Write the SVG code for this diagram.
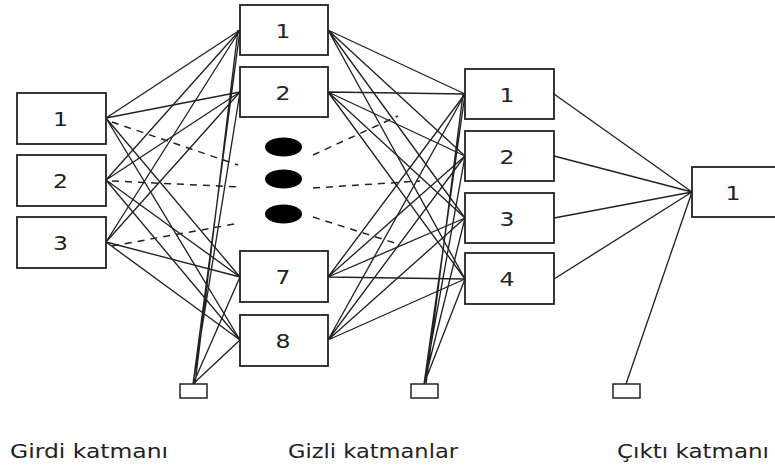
<svg xmlns="http://www.w3.org/2000/svg" width="775" height="466" viewBox="0 0 775 466">
  <style>
    .box { fill: #fff; stroke: #222; stroke-width: 1.8; }
    .bias { fill: #fff; stroke: #222; stroke-width: 1.5; }
    .num { font-family: "DejaVu Sans", Verdana, sans-serif; font-size: 20px; fill: #222; text-anchor: middle; }
    .lbl { font-family: "DejaVu Sans", Verdana, sans-serif; font-size: 20px; fill: #222; }
    .w { stroke: #222; stroke-width: 1.35; fill: none; }
    .d { stroke: #222; stroke-width: 1.5; fill: none; stroke-dasharray: 7 6; }
    .dot { fill: #000; }
  </style>
  <rect width="775" height="466" fill="#fff"/>

  <!-- weights -->
  <g id="connectors">
    <!-- input layer to first hidden layer -->
    <path class="w" d="M106,118 L240,30 M106,118 L240,92 M106,118 L240,277 M106,118 L240,340"/>
    <path class="w" d="M106,180 L240,30 M106,180 L240,92 M106,180 L240,277 M106,180 L240,340"/>
    <path class="w" d="M106,242 L240,30 M106,242 L240,92 M106,242 L240,277 M106,242 L240,340"/>
    <path class="d" d="M112,122 L238,165 M112,181 L240,187 M112,246 L240,223"/>
    <!-- bias of first hidden layer -->
    <path class="w" d="M193,384 L240,30 M193,384 L240,92 M195,384 L238,30 M193,384 L240,277 M193,384 L240,340"/>
    <!-- first hidden layer to second hidden layer -->
    <path class="w" d="M328,30 L465,94 M328,30 L465,156 M328,30 L465,218 M328,30 L465,279"/>
    <path class="w" d="M328,92 L465,94 M328,92 L465,156 M328,92 L465,218 M328,92 L465,279"/>
    <path class="w" d="M328,277 L465,94 M328,277 L465,156 M328,277 L465,218 M328,277 L465,279"/>
    <path class="w" d="M328,340 L465,94 M328,340 L465,156 M328,340 L465,218 M328,340 L465,279"/>
    <path class="d" d="M313,155 L398,116 M313,188 L420,181 M313,217 L398,244"/>
    <!-- bias of second hidden layer -->
    <path class="w" d="M424,384 L465,94 M424,384 L465,156 M424,384 L465,218 M424,384 L465,279 M426,384 L463,94"/>
    <!-- second hidden layer to output -->
    <path class="w" d="M554,94 L692,192 M554,156 L692,192 M554,218 L692,192 M554,279 L692,192"/>
    <path class="w" d="M626,384 L692,192"/>
  </g>

  <!-- input layer -->
  <g id="in1"><rect class="box" x="17" y="93" width="89" height="51"/><text class="num" x="60.5" y="126" textLength="15" lengthAdjust="spacingAndGlyphs">1</text></g>
  <g id="in2"><rect class="box" x="17" y="155" width="89" height="51"/><text class="num" x="60.5" y="188" textLength="15" lengthAdjust="spacingAndGlyphs">2</text></g>
  <g id="in3"><rect class="box" x="17" y="217" width="89" height="51"/><text class="num" x="60.5" y="250" textLength="15" lengthAdjust="spacingAndGlyphs">3</text></g>
  <g id="bias1"><rect class="bias" x="180" y="384" width="27" height="14"/></g>

  <!-- first hidden layer -->
  <g id="h1"><rect class="box" x="240" y="5" width="88" height="50"/><text class="num" x="283" y="38" textLength="15" lengthAdjust="spacingAndGlyphs">1</text></g>
  <g id="h2"><rect class="box" x="240" y="67" width="88" height="50"/><text class="num" x="283" y="100" textLength="15" lengthAdjust="spacingAndGlyphs">2</text></g>
  <g id="hdots">
    <ellipse class="dot" cx="283.5" cy="147" rx="18.5" ry="9.5"/>
    <ellipse class="dot" cx="283.5" cy="179" rx="18.5" ry="9.5"/>
    <ellipse class="dot" cx="283.5" cy="214" rx="18.5" ry="9.5"/>
  </g>
  <g id="h7"><rect class="box" x="240" y="251" width="88" height="51"/><text class="num" x="283" y="284" textLength="15" lengthAdjust="spacingAndGlyphs">7</text></g>
  <g id="h8"><rect class="box" x="240" y="315" width="88" height="51"/><text class="num" x="283" y="348" textLength="15" lengthAdjust="spacingAndGlyphs">8</text></g>
  <g id="bias2"><rect class="bias" x="411" y="384" width="27" height="14"/></g>

  <!-- second hidden layer -->
  <g id="k1"><rect class="box" x="465" y="69" width="89" height="50"/><text class="num" x="507" y="102" textLength="15" lengthAdjust="spacingAndGlyphs">1</text></g>
  <g id="k2"><rect class="box" x="465" y="131" width="89" height="50"/><text class="num" x="507" y="164" textLength="15" lengthAdjust="spacingAndGlyphs">2</text></g>
  <g id="k3"><rect class="box" x="465" y="193" width="89" height="50"/><text class="num" x="507" y="226" textLength="15" lengthAdjust="spacingAndGlyphs">3</text></g>
  <g id="k4"><rect class="box" x="465" y="253" width="89" height="51"/><text class="num" x="507" y="286" textLength="15" lengthAdjust="spacingAndGlyphs">4</text></g>
  <g id="bias3"><rect class="bias" x="613" y="384" width="27" height="14"/></g>

  <!-- output layer -->
  <g id="out1"><rect class="box" x="692" y="167" width="90" height="50"/><text class="num" x="733" y="200" textLength="15" lengthAdjust="spacingAndGlyphs">1</text></g>

  <!-- layer captions -->
  <g id="captions">
    <text class="lbl" x="10" y="458" textLength="158" lengthAdjust="spacingAndGlyphs">Girdi katmanı</text>
    <text class="lbl" x="288" y="458" textLength="170" lengthAdjust="spacingAndGlyphs">Gizli katmanlar</text>
    <text class="lbl" x="617" y="458" textLength="152" lengthAdjust="spacingAndGlyphs">Çıktı katmanı</text>
  </g>
</svg>
